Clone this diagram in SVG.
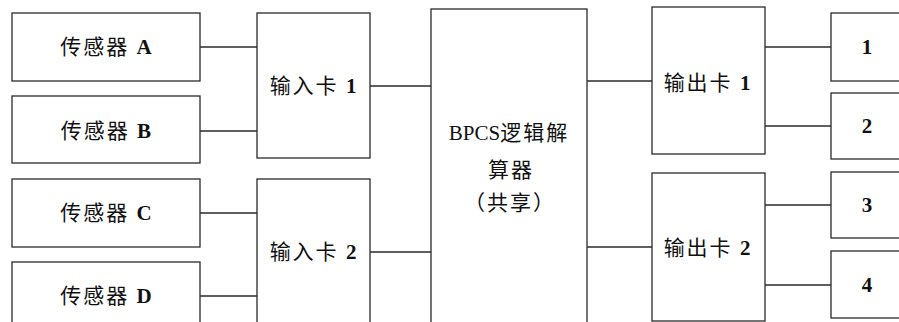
<svg xmlns="http://www.w3.org/2000/svg" width="899" height="322" viewBox="0 0 899 322">
<style>
rect{fill:#fff;stroke:#2a2a2a;stroke-width:1.3}
line{stroke:#2a2a2a;stroke-width:1.3}
text{font-family:"Liberation Serif","Noto Sans CJK SC",serif;font-size:21px;fill:#111;text-anchor:middle;dominant-baseline:central;letter-spacing:2px}
.b{font-weight:bold}
.t{letter-spacing:0}
</style>
<rect x="0" y="0" width="899" height="322" style="stroke:none"/>
<g id="connectors">
<line x1="200" y1="47" x2="257" y2="47"/>
<line x1="200" y1="131" x2="257" y2="131"/>
<line x1="200" y1="213" x2="257" y2="213"/>
<line x1="200" y1="296" x2="257" y2="296"/>
<line x1="370" y1="86" x2="431" y2="86"/>
<line x1="370" y1="252" x2="431" y2="252"/>
<line x1="587" y1="81" x2="652" y2="81"/>
<line x1="587" y1="247" x2="652" y2="247"/>
<line x1="765" y1="47" x2="831" y2="47"/>
<line x1="765" y1="126" x2="831" y2="126"/>
<line x1="765" y1="205" x2="831" y2="205"/>
<line x1="765" y1="285" x2="831" y2="285"/>
</g>
<g id="sensorA"><rect x="12" y="13" width="188" height="68"/><text x="107" y="47">传感器 <tspan class="b">A</tspan></text></g>
<g id="sensorB"><rect x="12" y="96" width="188" height="67"/><text x="107" y="131">传感器 <tspan class="b">B</tspan></text></g>
<g id="sensorC"><rect x="12" y="179" width="188" height="68"/><text x="107" y="213">传感器 <tspan class="b">C</tspan></text></g>
<g id="sensorD"><rect x="12" y="262" width="188" height="80"/><text x="107" y="296">传感器 <tspan class="b">D</tspan></text></g>
<g id="input1"><rect x="257" y="13" width="113" height="145"/><text x="314" y="86">输入卡 <tspan class="b">1</tspan></text></g>
<g id="input2"><rect x="257" y="179" width="113" height="163"/><text x="314" y="252">输入卡 <tspan class="b">2</tspan></text></g>
<g id="bpcs"><rect x="431" y="9" width="156" height="333"/>
<text x="509" y="133"><tspan class="t">BPCS</tspan>逻辑解</text>
<text x="511" y="170">算器</text>
<text x="510" y="203">（共享）</text></g>
<g id="output1"><rect x="652" y="7" width="113" height="147"/><text x="708" y="83">输出卡 <tspan class="b">1</tspan></text></g>
<g id="output2"><rect x="652" y="173" width="113" height="148"/><text x="708" y="248">输出卡 <tspan class="b">2</tspan></text></g>
<g id="out1"><rect x="831" y="13" width="90" height="68"/><text x="868" y="47" class="b">1</text></g>
<g id="out2"><rect x="831" y="93" width="90" height="66"/><text x="868" y="126" class="b">2</text></g>
<g id="out3"><rect x="831" y="172" width="90" height="66"/><text x="868" y="205" class="b">3</text></g>
<g id="out4"><rect x="831" y="251" width="90" height="67"/><text x="868" y="285" class="b">4</text></g>
</svg>
